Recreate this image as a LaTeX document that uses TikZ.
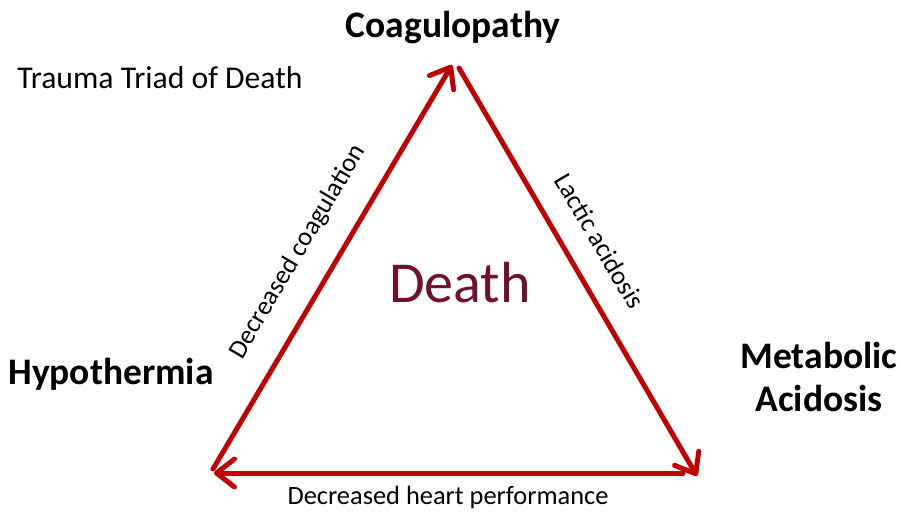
\documentclass[tikz,border=0pt]{standalone}
\usepackage{fontspec}
\setmainfont{Carlito}
\usetikzlibrary{arrows.meta}
\definecolor{arrowred}{RGB}{192,0,0}
\definecolor{deathred}{RGB}{112,16,48}
\tikzset{
  triarrow/.style={draw=arrowred, line width=5pt, line cap=round,
    -{Straight Barb[length=18pt,width=28pt,line cap=round,line join=round]}},
  bigtitle/.style={font=\bfseries\fontsize{37.5}{43}\selectfont, align=center, inner sep=0pt},
  edgelabel/.style={font=\fontsize{26.4}{30}\selectfont, inner sep=0pt},
}
\begin{document}
\begin{tikzpicture}[x=1pt,y=-1pt]
\useasboundingbox (0,0) rectangle (901,512);
\coordinate (lb) at (213,469);
\coordinate (tl) at (452,65);
\coordinate (tr) at (459,68);
\coordinate (rb) at (697,476);
\coordinate (br) at (683,473);
\coordinate (bl) at (214,473);
\draw[triarrow] (lb) -- (tl);
\draw[triarrow] (tr) -- (rb);
\draw[triarrow] (br) -- (bl);
\node[bigtitle] (coag) at (453,28) {Coagulopathy};
\node[bigtitle] (hypo) at (111,374) {Hypothermia};
\node[bigtitle] (meta) at (819,377) {Metabolic\\Acidosis};
\node[font=\fontsize{31.7}{36}\selectfont, inner sep=0pt] (triad) at (160,78) {Trauma Triad of Death};
\node[font=\fontsize{58}{64}\selectfont, text=deathred, inner sep=0pt] (death) at (460,283) {Death};
\node[edgelabel, rotate=59.4] (dc) at (298,252) {Decreased coagulation};
\node[edgelabel, rotate=-59.6] (la) at (600,241) {Lactic acidosis};
\node[edgelabel] (dh) at (448,497) {Decreased heart performance};
\end{tikzpicture}
\end{document}
